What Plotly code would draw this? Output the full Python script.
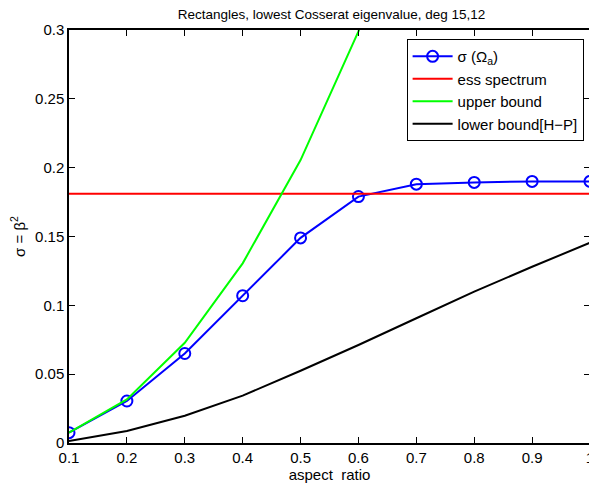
import plotly.graph_objects as go

aspect_ratio = [0.1, 0.2, 0.3, 0.4, 0.5, 0.6, 0.7, 0.8, 0.9, 1.0]
sigma_omega = [0.0075, 0.0305, 0.065, 0.107, 0.149, 0.179, 0.188, 0.1893, 0.190, 0.190]
ess_x = [0.1, 1.0]
ess_y = [0.1810, 0.1810]
upper_x = [0.1, 0.2, 0.3, 0.4, 0.5, 0.6, 0.7]
upper_bound = [0.0075, 0.0317, 0.0728, 0.1305, 0.2055, 0.299, 0.41]
lower_bound = [0.0015, 0.0087, 0.0198, 0.0344, 0.0525, 0.0712, 0.0906, 0.110, 0.128, 0.1455]

x_ticks = [0.1, 0.2, 0.3, 0.4, 0.5, 0.6, 0.7, 0.8, 0.9, 1.0]
x_ticklabels = ["0.1", "0.2", "0.3", "0.4", "0.5", "0.6", "0.7", "0.8", "0.9", "1"]
y_ticks = [0, 0.05, 0.1, 0.15, 0.2, 0.25, 0.3]
y_ticklabels = ["0", "0.05", "0.1", "0.15", "0.2", "0.25", "0.3"]

FONT = "Liberation Sans, Arial, Helvetica, sans-serif"

# page body has an 8px default margin, so the figure is shrunk to fit the window
W, H = 589, 475
ML, MT, MR, MB = 61, 22, 3, 40

fig = go.Figure()
fig.add_trace(go.Scatter(
    x=aspect_ratio, y=sigma_omega, mode="lines+markers",
    name="σ (Ω<sub>a</sub>)",
    line=dict(color="#0000ff", width=2),
    marker=dict(symbol="circle-open", size=11, color="#0000ff", line=dict(width=2)),
))
fig.add_trace(go.Scatter(
    x=ess_x, y=ess_y, mode="lines", name="ess spectrum",
    line=dict(color="#ff0000", width=2),
))
fig.add_trace(go.Scatter(
    x=upper_x, y=upper_bound, mode="lines", name="upper bound",
    line=dict(color="#00ff00", width=2),
))
fig.add_trace(go.Scatter(
    x=aspect_ratio, y=lower_bound, mode="lines", name="lower bound[H−P]",
    line=dict(color="#000000", width=2),
))

fig.update_layout(
    width=W, height=H,
    margin=dict(l=ML, r=MR, t=MT, b=MB, pad=0),
    paper_bgcolor="white", plot_bgcolor="white",
    font=dict(family=FONT, size=15, color="black"),
    title=dict(text="Rectangles, lowest Cosserat eigenvalue, deg 15,12",
               x=(ML + (W - MR)) / 2 / W, xanchor="center", y=1 - 6 / H, yanchor="middle",
               font=dict(size=13.5)),
    legend=dict(x=0.648, y=0.978, xanchor="left", yanchor="top",
                bordercolor="black", borderwidth=1, bgcolor="white",
                font=dict(size=15), itemwidth=40, tracegroupgap=0),
    showlegend=True,
)
fig.update_xaxes(
    range=[0.1, 1.0], tickvals=x_ticks, ticktext=x_ticklabels,
    showline=True, linecolor="black", linewidth=1.5, mirror="ticks",
    ticks="inside", ticklen=6, tickcolor="black", showgrid=False, zeroline=False,
    title=dict(text="aspect  ratio", font=dict(size=15), standoff=1),
)
fig.update_yaxes(
    range=[0, 0.3], tickvals=y_ticks, ticktext=y_ticklabels,
    showline=True, linecolor="black", linewidth=1.5, mirror="ticks",
    ticks="inside", ticklen=6, tickcolor="black", showgrid=False, zeroline=False,
    title=dict(text="σ = β<sup>2</sup>", font=dict(size=15), standoff=6),
)

fig.write_html("out.html")
